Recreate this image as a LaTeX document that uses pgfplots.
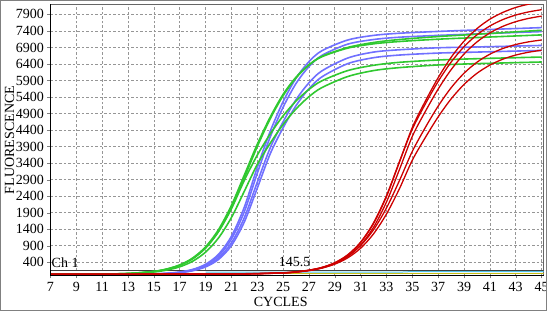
\documentclass[border=0pt]{standalone}
\usepackage{fontspec}
\setmainfont{Liberation Serif}
\usepackage{pgfplots}
\pgfplotsset{compat=1.18}
\definecolor{cblue}{RGB}{112,112,255}
\definecolor{cgreen}{RGB}{48,200,48}
\definecolor{cred}{RGB}{204,0,0}
\definecolor{cgrid}{RGB}{150,150,150}
\definecolor{ccyan}{RGB}{80,195,232}
\definecolor{colive}{RGB}{200,190,20}
\begin{document}
\begin{tikzpicture}
\begin{axis}[
  name=ax,
  scale only axis,
  width=493pt, height=271pt,
  xmin=7, xmax=45.15, ymin=0, ymax=8200,
  xtick={7,9,...,45},
  ytick={400,900,...,7900},
  scaled y ticks=false,
  /pgf/number format/assume math mode=true,
  /pgf/number format/1000 sep={},
  tick label style={font=\fontsize{14}{16}\selectfont},
  label style={font=\fontsize{14}{16}\selectfont},
  grid=major,
  major grid style={cgrid, line width=0.6pt, dash pattern=on 2.5pt off 2pt},
  tick align=outside,
  major tick length=3pt,
  xtick pos=bottom, ytick pos=left,
  axis line style={black!60, line width=0.8pt},
  xlabel={CYCLES},
  ylabel={FLUORESCENCE},
  xlabel style={at={(axis description cs:0.467,-0.096)}, anchor=center},
  ylabel style={at={(axis description cs:-0.083,0.5)}, anchor=center},
  every axis plot/.append style={smooth, no markers},
]
% baselines
\addplot[black, line width=0.9pt, sharp plot] coordinates {(7,15)(45.2,15)};
\addplot[colive, line width=0.9pt, sharp plot] coordinates {(7,72)(45.2,72)};
\addplot[green!50!black, line width=0.9pt, sharp plot] coordinates {(8,40)(10,40)};
\addplot[ccyan, line width=1pt, sharp plot] coordinates {(19,100)(34,100)(35,120)(45.2,120)};
\addplot[black!75, line width=0.7pt, sharp plot] coordinates {(7,150)(45.2,150)};
% blue
\addplot[cblue, line width=1.6pt] coordinates {(7,30)(10,30)(13,34)(15,48)(16,66)(17,105)(18,183)(19,339)(20,640)(21,1185)(22,2070)(23,3270)(24,4360)(25,5260)(26,5970)(27,6470)(28,6800)(30,7125)(32,7265)(34,7330)(37,7385)(40,7430)(45,7500)};
\addplot[cblue, line width=1.6pt] coordinates {(7,30)(10,30)(13,34)(15,46)(16,63)(17,98)(18,170)(19,313)(20,590)(21,1100)(22,1930)(23,3090)(24,4190)(25,5090)(26,5810)(27,6320)(28,6660)(30,7000)(32,7140)(34,7210)(37,7265)(40,7310)(45,7380)};
\addplot[cblue, line width=1.6pt] coordinates {(7,30)(10,30)(13,33)(15,44)(16,60)(17,91)(18,154)(19,281)(20,530)(21,986)(22,1750)(23,2820)(24,3860)(25,4650)(26,5320)(27,5830)(28,6190)(30,6580)(32,6760)(34,6830)(37,6890)(40,6915)(45,6960)};
\addplot[cblue, line width=1.6pt] coordinates {(7,30)(10,30)(13,33)(15,43)(16,57)(17,85)(18,143)(19,259)(20,485)(21,906)(22,1620)(23,2640)(24,3680)(25,4470)(26,5140)(27,5650)(28,6010)(30,6410)(32,6590)(34,6670)(37,6730)(40,6760)(45,6810)};
% green
\addplot[cgreen, line width=1.6pt] coordinates {(7,31)(10,35)(13,59)(15,120)(16,189)(17,307)(18,505)(19,829)(20,1330)(21,2050)(22,2960)(23,3900)(24,4740)(25,5440)(26,5980)(27,6370)(28,6630)(30,6900)(32,7050)(34,7140)(37,7230)(40,7300)(45,7420)};
\addplot[cgreen, line width=1.6pt] coordinates {(7,31)(10,36)(13,61)(15,125)(16,197)(17,320)(18,528)(19,866)(20,1387)(21,2120)(22,3040)(23,3970)(24,4790)(25,5480)(26,6000)(27,6370)(28,6620)(30,6880)(32,7010)(34,7080)(37,7150)(40,7200)(45,7280)};
\addplot[cgreen, line width=1.6pt] coordinates {(7,31)(10,35)(13,60)(15,122)(16,192)(17,311)(18,511)(19,835)(20,1330)(21,2020)(22,2880)(23,3640)(24,4280)(25,4830)(26,5280)(27,5630)(28,5890)(30,6200)(32,6360)(34,6450)(37,6520)(40,6560)(45,6610)};
\addplot[cgreen, line width=1.6pt] coordinates {(7,31)(10,34)(13,54)(15,106)(16,164)(17,262)(18,431)(19,706)(20,1135)(21,1753)(22,2550)(23,3360)(24,4000)(25,4570)(26,5040)(27,5410)(28,5685)(30,6020)(32,6200)(34,6290)(37,6370)(40,6410)(45,6460)};
% red
\addplot[cred, line width=1.3pt] coordinates {(7,40)(15,40)(22,47)(25,78)(26,106)(27,155)(28,238)(29,380)(30,615)(31,995)(32,1570)(33,2390)(34,3430)(35,4480)(36,5270)(37,5985)(38,6600)(39,7090)(40,7470)(41,7755)(42,7960)(43,8110)(44,8210)(45,8280)};
\addplot[cred, line width=1.3pt] coordinates {(7,40)(15,40)(22,48)(25,80)(26,108)(27,158)(28,243)(29,388)(30,627)(31,1010)(32,1596)(33,2414)(34,3442)(35,4428)(36,5186)(37,5873)(38,6456)(39,6923)(40,7282)(41,7549)(42,7743)(43,7880)(44,7976)(45,8043)};
\addplot[cred, line width=1.3pt] coordinates {(7,40)(15,40)(22,47)(25,75)(26,101)(27,146)(28,223)(29,354)(30,571)(31,922)(32,1459)(33,2224)(34,3203)(35,4211)(36,4959)(37,5641)(38,6227)(39,6702)(40,7067)(41,7340)(42,7538)(43,7680)(44,7779)(45,7849)};
\addplot[cred, line width=1.3pt] coordinates {(7,40)(15,41)(22,55)(25,84)(26,113)(27,162)(28,242)(29,373)(30,582)(31,906)(32,1384)(33,2044)(34,2869)(35,3757)(36,4474)(37,5126)(38,5680)(39,6120)(40,6453)(41,6696)(42,6868)(43,6988)(44,7070)(45,7126)};
\addplot[cred, line width=1.3pt] coordinates {(7,40)(15,41)(22,52)(25,81)(26,108)(27,152)(28,226)(29,344)(30,533)(31,826)(32,1260)(33,1861)(34,2624)(35,3490)(36,4171)(37,4801)(38,5343)(39,5781)(40,6118)(41,6366)(42,6545)(43,6670)(44,6756)(45,6816)};
\node[anchor=west, font=\fontsize{14}{16}\selectfont, inner sep=1pt] at (axis cs:7,400) {Ch 1};
\node[anchor=center, font=\fontsize{14}{16}\selectfont, inner sep=1pt] at (axis cs:25.9,420) {145.5};
\end{axis}
\draw[black, line width=1.4pt] (ax.north west) -- (ax.south west) -- (ax.south east);
\pgfresetboundingbox
\path ([xshift=-50.5pt,yshift=-36.5pt]ax.south west) rectangle ([xshift=3.5pt,yshift=4.5pt]ax.north east);
\draw[gray, line width=1pt] ([xshift=-49.5pt,yshift=-35.5pt]ax.south west) rectangle ([xshift=2.5pt,yshift=3.5pt]ax.north east);
\end{tikzpicture}
\end{document}
